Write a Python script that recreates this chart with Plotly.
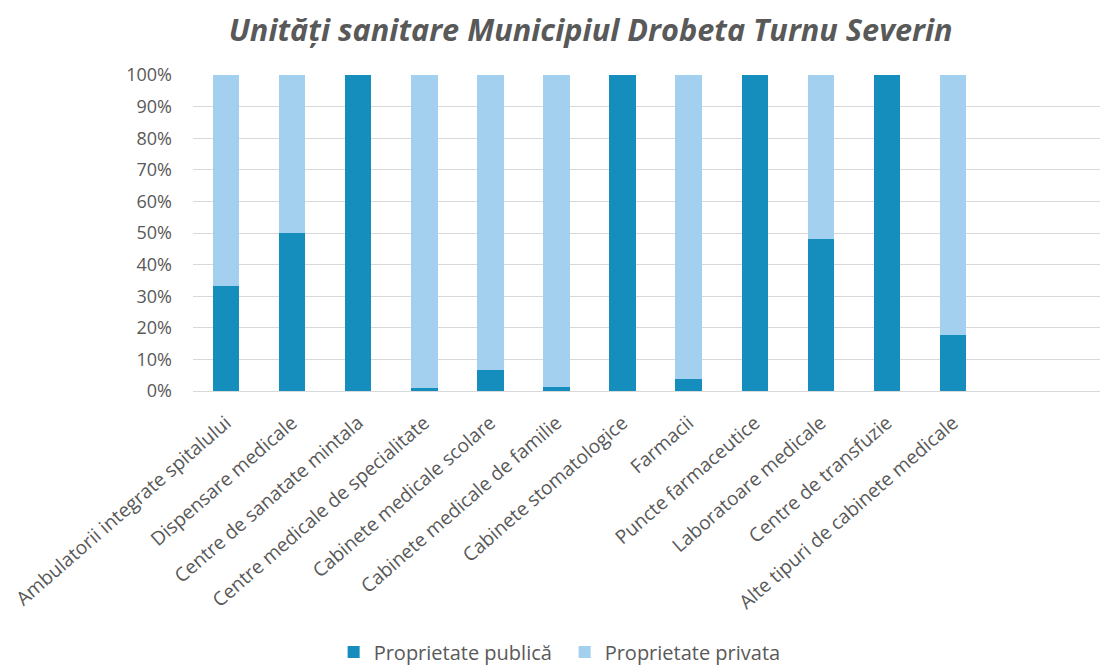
import plotly.graph_objects as go

categories = [
    "Ambulatorii integrate spitalului",
    "Dispensare medicale",
    "Centre de sanatate mintala",
    "Centre medicale de specialitate",
    "Cabinete medicale scolare",
    "Cabinete medicale de familie",
    "Cabinete stomatologice",
    "Farmacii",
    "Puncte farmaceutice",
    "Laboratoare medicale",
    "Centre de transfuzie",
    "Alte tipuri de cabinete medicale",
]
public_pct = [33.3, 50.0, 100.0, 1.0, 6.8, 1.3, 100.0, 3.8, 100.0, 48.1, 100.0, 17.7]
private_pct = [66.7, 50.0, 0.0, 99.0, 93.2, 98.7, 0.0, 96.2, 0.0, 51.9, 0.0, 82.3]
series_names = ["Proprietate publică", "Proprietate privata"]
y_ticks = [0, 10, 20, 30, 40, 50, 60, 70, 80, 90, 100]
y_labels = [f"{v}%" for v in y_ticks]

DARK = "#168EBD"
LIGHT = "#A3D0EE"
GRAY = "#595959"
FONT = "Open Sans"

fig = go.Figure()
fig.add_trace(go.Bar(x=categories, y=public_pct, name=series_names[0],
                     marker=dict(color=DARK, line=dict(width=0))))
fig.add_trace(go.Bar(x=categories, y=private_pct, name=series_names[1],
                     marker=dict(color=LIGHT, line=dict(width=0))))

# page body has an 8px default margin, so the figure is sized 1100x657
fig.update_layout(
    barmode="stack",
    bargap=0.6,
    width=1100, height=657,
    paper_bgcolor="white", plot_bgcolor="white",
    margin=dict(l=185, r=3, t=67, b=274, autoexpand=False),
    title=dict(text="<b><i>Unități sanitare Municipiul Drobeta Turnu Severin</i></b>",
               x=0.436, xanchor="center", xref="paper",
               y=0.966, yanchor="middle", yref="container",
               font=dict(family=FONT, size=30.7, color=GRAY)),
    font=dict(family=FONT, color=GRAY, size=18),
    showlegend=True,
    legend=dict(orientation="h", x=0.4075, xanchor="center", y=-0.826, yanchor="middle",
                font=dict(family=FONT, size=20, color=GRAY), traceorder="normal",
                itemwidth=30, entrywidth=186, entrywidthmode="pixels"),
    xaxis=dict(type="category", range=[-0.5, 13.3], tickangle=-41,
               tickfont=dict(family=FONT, size=19.2, color=GRAY),
               showgrid=False, showline=False, ticks="", automargin=False,
               ticklabelstandoff=16),
    yaxis=dict(range=[0, 100], tickvals=y_ticks, ticktext=y_labels,
               tickfont=dict(family=FONT, size=18, color=GRAY),
               showgrid=True, gridcolor="#D9D9D9", gridwidth=1,
               zeroline=True, zerolinecolor="#D9D9D9", zerolinewidth=1,
               showline=False, ticks="", ticklabelstandoff=20, automargin=False),
)

fig.write_html("out.html")
